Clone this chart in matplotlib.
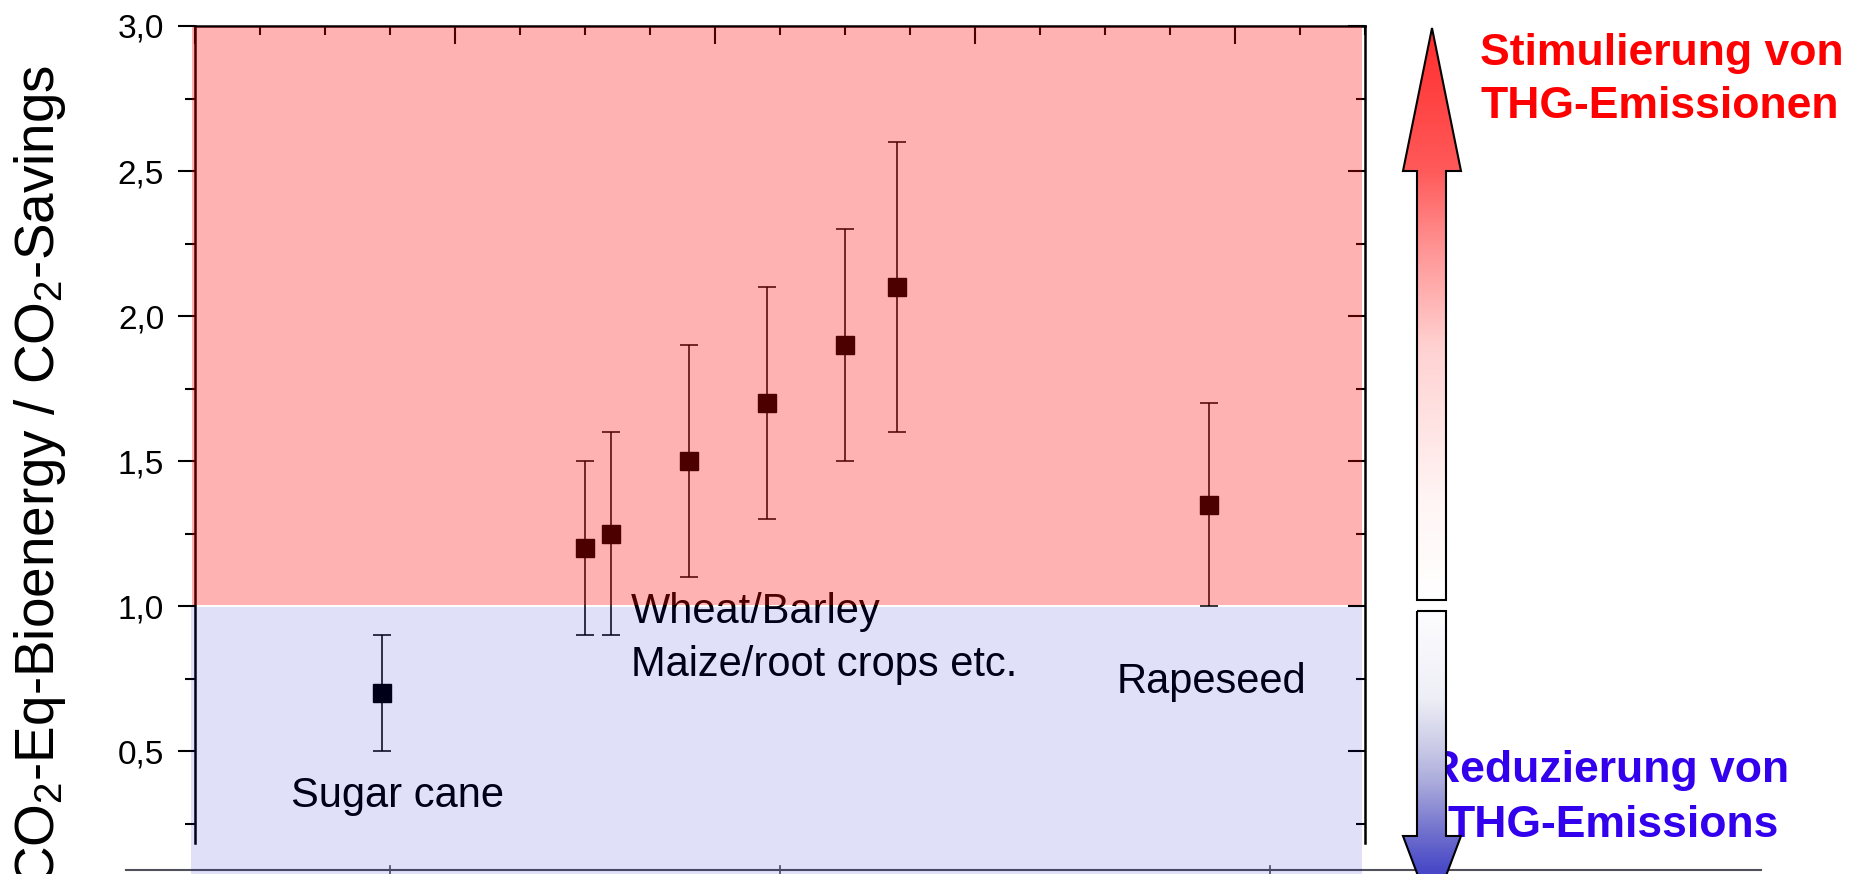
import numpy as np
import matplotlib
matplotlib.use("Agg")
import matplotlib.pyplot as plt
from matplotlib.patches import Polygon, Rectangle
from matplotlib.ticker import MultipleLocator, FuncFormatter

plt.rcParams['font.family'] = ['Liberation Sans', 'DejaVu Sans']
plt.rcParams['mathtext.fontset'] = 'custom'
plt.rcParams['mathtext.rm'] = 'Liberation Sans'
plt.rcParams['mathtext.it'] = 'Liberation Sans:italic'
plt.rcParams['mathtext.bf'] = 'Liberation Sans:bold'
plt.rcParams['ytick.labelsize'] = 24

# crop position, ratio and its range
crop_x = [0.72, 1.5, 1.6, 1.9, 2.2, 2.5, 2.7, 3.9]
ratio = [0.7, 1.2, 1.25, 1.5, 1.7, 1.9, 2.1, 1.35]
ratio_low = [0.5, 0.9, 0.9, 1.1, 1.3, 1.5, 1.6, 1.0]
ratio_high = [0.9, 1.5, 1.6, 1.9, 2.1, 2.3, 2.6, 1.7]

y_ticks = [0.5, 1.0, 1.5, 2.0, 2.5, 3.0]
threshold = 1.0

W, H = 1860, 874
fig = plt.figure(figsize=(W / 100, H / 100), dpi=100)

# pixel-space layer for arrows and side captions
deco = fig.add_axes([0, 0, 1, 1])
deco.set_xlim(0, W)
deco.set_ylim(H, 0)
deco.axis('off')
deco.set_zorder(0)

ax = fig.add_axes([195 / W, 1 - 843 / H, (1365 - 195) / W, (843 - 26) / H])
ax.set_zorder(1)
ax.patch.set_visible(False)

lo = np.array(ratio) - np.array(ratio_low)
hi = np.array(ratio_high) - np.array(ratio)
ax.errorbar(crop_x, ratio, yerr=[lo, hi], fmt='s', ms=13.2, color='black',
            ecolor='black', elinewidth=1.1, capsize=6.5, capthick=1.1, zorder=3)

ax.set_xlim(0, 4.5)
ax.set_ylim(0.183, 3.0)
ax.set_yticks(y_ticks)
ax.yaxis.set_minor_locator(MultipleLocator(0.25))
ax.yaxis.set_major_formatter(FuncFormatter(lambda v, p: f'{v:.1f}'.replace('.', ',')))
ax.xaxis.set_major_locator(MultipleLocator(1))
ax.xaxis.set_minor_locator(MultipleLocator(0.25))

ax.spines['bottom'].set_visible(False)
for side in ['left', 'right', 'top']:
    ax.spines[side].set_linewidth(1.8)

ax.text(0.369, 0.307, 'Sugar cane', fontsize=30, va='baseline', ha='left', zorder=4)
ax.text(1.675, 0.941, 'Wheat/Barley', fontsize=30, va='baseline', ha='left', zorder=4)
ax.text(1.675, 0.759, 'Maize/root crops etc.', fontsize=30, va='baseline', ha='left', zorder=4)
ax.text(3.543, 0.700, 'Rapeseed', fontsize=30, va='baseline', ha='left', zorder=4)

# right-hand ticks pointing inward, plus the tinted zones on top
ax_r = ax.twinx()
ax_r.set_zorder(2)
ax_r.set_ylim(ax.get_ylim())
ax_r.set_yticks(y_ticks)
ax_r.yaxis.set_minor_locator(MultipleLocator(0.25))
ax_r.tick_params(axis='y', which='both', direction='in', width=1.5, labelright=False)
ax_r.tick_params(axis='y', which='major', length=12.2)
ax_r.tick_params(axis='y', which='minor', length=6.5)
for s in ax_r.spines.values():
    s.set_visible(False)

ax.tick_params(axis='x', which='both', bottom=False, top=True, labelbottom=False,
               labeltop=False, direction='in', width=1.5, color='black')
ax.tick_params(axis='x', which='major', length=13)
ax.tick_params(axis='x', which='minor', length=6.5)
ax.tick_params(axis='y', which='both', left=True, right=False, direction='out',
               width=1.5, pad=10)
ax.tick_params(axis='y', which='major', length=12.2, labelsize=24)
ax.tick_params(axis='y', which='minor', length=7)

ax_r.add_patch(Rectangle((-0.012, threshold + 0.004), 4.49 + 0.012, 3.0 - 0.003 - threshold - 0.004,
                         facecolor=(1, 0, 0), alpha=0.3, lw=0, zorder=10, clip_on=False))
ax_r.add_patch(Rectangle((-0.015, 0.0), 4.49 + 0.015, threshold - 0.004,
                         facecolor=(0, 0, 200 / 255), alpha=0.12, lw=0, zorder=10, clip_on=False))

fig.text(40 / W, 1 - 65 / H, r'CO$_2$-Eq-Bioenergy / CO$_2$-Savings', rotation=90,
         ha='center', va='top', fontsize=39.5)

# faint axis line along the bottom edge
deco.plot([126, 1761], [870, 870], color='#50505a', lw=1.5, zorder=1)
for tx in [390, 780, 1270]:
    deco.plot([tx, tx], [866, 874], color='#50505a', lw=1.2, zorder=1)


def gradient_arrow(points, y_top, y_bot, stops, colors):
    patch = Polygon(points, closed=True, facecolor='none', edgecolor='black', lw=1.5, zorder=6)
    deco.add_patch(patch)
    t = np.linspace(0, 1, 400)
    col = np.stack([np.interp(t, stops, [c[i] for c in colors]) for i in range(3)], axis=1)
    img = np.repeat(col[:, None, :], 2, axis=1) / 255.0
    xs = [p[0] for p in points]
    im = deco.imshow(img, extent=(min(xs), max(xs), y_bot, y_top), origin='upper',
                     aspect='auto', zorder=5, interpolation='bilinear')
    im.set_clip_path(patch)


up_pts = [(1432, 28), (1461, 171), (1446, 171), (1446, 600), (1417, 600), (1417, 171), (1403, 171)]
gradient_arrow(up_pts, 28, 600, [0, 0.25, 0.39, 0.56, 0.83, 1.0],
               [(255, 45, 45), (255, 90, 90), (255, 150, 150), (255, 210, 210),
                (255, 245, 245), (255, 255, 255)])

down_pts = [(1417, 611), (1446, 611), (1446, 836), (1461, 836), (1432, 913), (1403, 836), (1417, 836)]
gradient_arrow(down_pts, 611, 913, [0, 0.29, 0.46, 0.57, 0.74, 0.85, 1.0],
               [(253, 253, 255), (238, 238, 246), (200, 200, 230), (170, 170, 220),
                (110, 110, 205), (75, 75, 200), (50, 50, 195)])
deco.set_xlim(0, W)
deco.set_ylim(H, 0)

deco.text(1480, 65, 'Stimulierung von', color='#ff0000', fontsize=32, fontweight='bold',
          ha='left', va='baseline', zorder=2)
deco.text(1480, 118, 'THG-Emissionen', color='#ff0000', fontsize=32, fontweight='bold',
          ha='left', va='baseline', zorder=2)
deco.text(1609, 782, 'Reduzierung von', color='#3300ee', fontsize=32, fontweight='bold',
          ha='center', va='baseline', zorder=2)
deco.text(1613, 837, 'THG-Emissions', color='#3300ee', fontsize=32, fontweight='bold',
          ha='center', va='baseline', zorder=2)

fig.savefig('out.png', dpi=100)
